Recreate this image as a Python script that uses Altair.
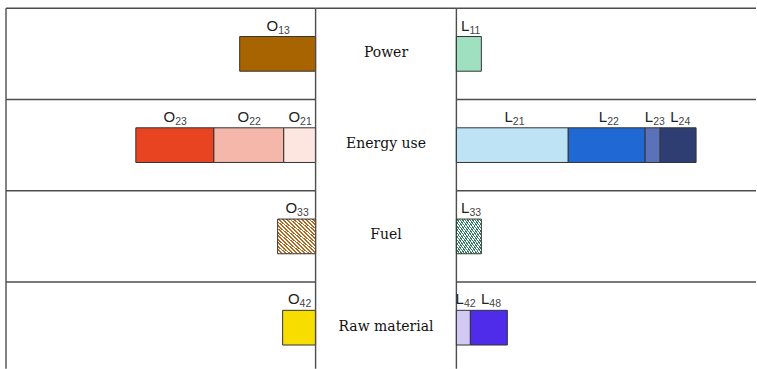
import altair as alt
import pandas as pd

rows = ["Power", "Energy use", "Fuel", "Raw material"]

# Left side (O) segments, ordered from the centre outward
left_row = [0, 1, 1, 1, 2, 3]
left_letter = ["O", "O", "O", "O", "O", "O"]
left_sub = ["13", "21", "22", "23", "33", "42"]
left_val = [38, 16, 35, 39, 19, 16.5]
left_color = ["#A86400", "#FDE5E0", "#F5B7A9", "#E84422", "#B36A1E", "#F7DD00"]
left_hatch = [False, False, False, False, True, False]

# Right side (L) segments, ordered from the centre outward
right_row = [0, 1, 1, 1, 1, 2, 3, 3]
right_letter = ["L", "L", "L", "L", "L", "L", "L", "L"]
right_sub = ["11", "21", "22", "23", "24", "33", "42", "48"]
right_val = [12.5, 56, 38.5, 7.5, 18, 12.5, 7, 18.5]
right_color = ["#9EE0C0", "#BEE3F5", "#2068D4", "#5B72BA", "#2E3E72", "#2E7D5C", "#D3C9F5", "#4E2CEA"]
right_hatch = [False, False, False, False, False, True, False, False]

H = 361
Y_DOMAIN = [0, 3.95]
LINE = "#4d4d4d"
LW = 1.4


def build(row, letter, sub, val, color, hatch):
    df = pd.DataFrame({"row": row, "letter": letter, "sub": sub, "val": val,
                       "color": color, "hatch": hatch})
    df["end"] = df.groupby("row")["val"].cumsum()
    df["start"] = df["end"] - df["val"]
    df["mid"] = (df["start"] + df["end"]) / 2
    df["top"] = df["row"] + 0.31
    df["bot"] = df["row"] + 0.69
    return df


def hatch_fill(color, n, frac=0.5):
    stops = []
    for i in range(n):
        a, b, c = i / n, (i + frac) / n, (i + 1) / n
        stops += [{"offset": a, "color": color}, {"offset": b, "color": color},
                  {"offset": b, "color": "#ffffff"}, {"offset": c, "color": "#ffffff"}]
    return {"gradient": "linear", "x1": 0, "y1": 1, "x2": 1, "y2": 0, "stops": stops}


yscale = alt.Scale(domain=Y_DOMAIN, reverse=True, nice=False, zero=False)


def side_panel(df, width, domain, reverse, left_border):
    xs = alt.Scale(domain=domain, reverse=reverse, nice=False, zero=True)
    base = alt.Chart(df)
    layers = []
    layers.append(
        base.transform_filter("!datum.hatch").mark_bar(stroke="#333333", strokeWidth=1).encode(
            x=alt.X("start:Q", scale=xs, axis=None), x2="end:Q",
            y=alt.Y("top:Q", scale=yscale, axis=None), y2="bot:Q",
            fill=alt.Fill("color:N", scale=None))
    )
    for _, r in df[df["hatch"]].iterrows():
        layers.append(
            base.transform_filter(f"datum.sub == '{r['sub']}'").mark_bar(
                fill=hatch_fill(r["color"], 20, 0.5), stroke="#333333", strokeWidth=1).encode(
                x=alt.X("start:Q", scale=xs, axis=None), x2="end:Q",
                y=alt.Y("top:Q", scale=yscale, axis=None), y2="bot:Q")
        )
    layers.append(
        base.mark_text(align="right", baseline="alphabetic", dy=-6, dx=0.5,
                       font="Liberation Sans", fontSize=15, color="#222222").encode(
            x=alt.X("mid:Q", scale=xs, axis=None),
            y=alt.Y("top:Q", scale=yscale, axis=None), text="letter:N")
    )
    layers.append(
        base.mark_text(align="left", baseline="alphabetic", dy=-3, dx=0.5,
                       font="Liberation Sans", fontSize=10.5, color="#444444").encode(
            x=alt.X("mid:Q", scale=xs, axis=None),
            y=alt.Y("top:Q", scale=yscale, axis=None), text="sub:N")
    )
    seps = pd.DataFrame({"b": [0, 1, 2, 3]})
    layers.append(
        alt.Chart(seps).mark_rule(color=LINE, strokeWidth=LW).encode(
            y=alt.Y("b:Q", scale=yscale, axis=None),
            x=alt.value(0), x2=alt.value(width))
    )
    if left_border:
        layers.append(
            alt.Chart(seps.head(1)).mark_rule(color=LINE, strokeWidth=LW).encode(
                x=alt.value(0), y=alt.value(0), y2=alt.value(H))
        )
    return alt.layer(*layers).properties(width=width, height=H)


left_df = build(left_row, left_letter, left_sub, left_val, left_color, left_hatch)
right_df = build(right_row, right_letter, right_sub, right_val, right_color, right_hatch)

left = side_panel(left_df, 310, [0, 155], True, True)
right = side_panel(right_df, 300, [0, 150], False, False)

MW = 141
cat_df = pd.DataFrame({"name": rows, "row": list(range(len(rows)))})
cat_df["yc"] = cat_df["row"] + 0.5
mid_text = alt.Chart(cat_df).mark_text(
    font="DejaVu Serif", fontSize=14, color="#111111", baseline="middle", align="center", dy=-1
).encode(x=alt.value(MW / 2), y=alt.Y("yc:Q", scale=yscale, axis=None), text="name:N")
vlines = alt.Chart(cat_df.head(1)).mark_rule(color=LINE, strokeWidth=LW).encode(
    x=alt.value(0), y=alt.value(0), y2=alt.value(H))
vlines2 = alt.Chart(cat_df.head(1)).mark_rule(color=LINE, strokeWidth=LW).encode(
    x=alt.value(MW), y=alt.value(0), y2=alt.value(H))
topline = alt.Chart(cat_df.head(1)).mark_rule(color=LINE, strokeWidth=LW).encode(
    y=alt.value(0), x=alt.value(0), x2=alt.value(MW))
middle = alt.layer(mid_text, vlines, vlines2, topline).properties(width=MW, height=H)

chart = alt.hconcat(left, middle, right, spacing=0, bounds="flush").properties(
    padding={"left": 5, "top": 7, "right": 0, "bottom": 0}
).configure_view(stroke=None).configure_concat(spacing=0)

chart.save("out.html", embed_options={"renderer": "svg", "actions": False})
